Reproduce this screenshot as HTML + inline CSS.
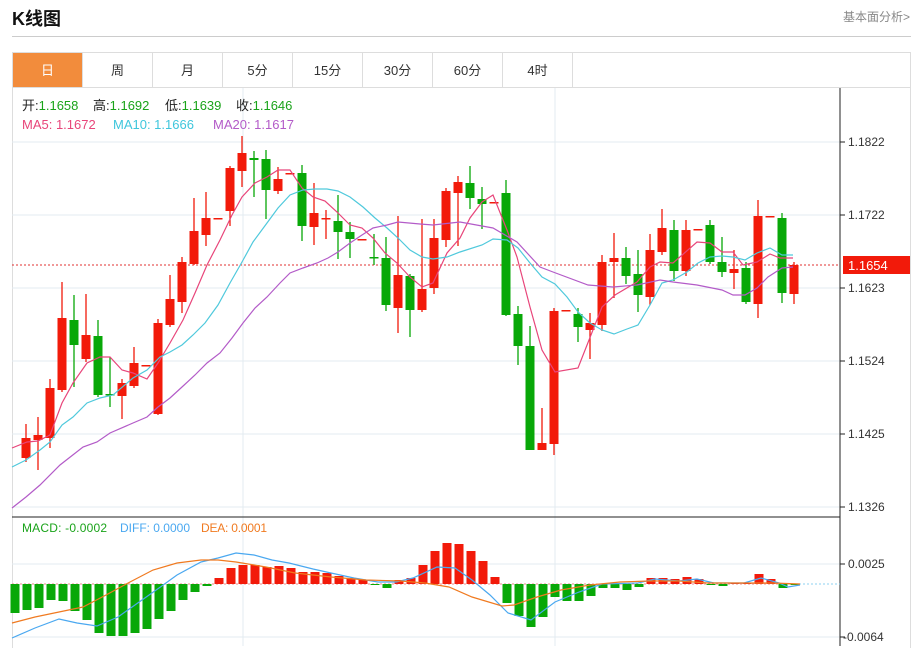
<!DOCTYPE html>
<html><head><meta charset="utf-8"><style>
body{margin:0;width:919px;height:646px;background:#fff;font-family:"Liberation Sans","Noto Sans CJK SC",sans-serif;overflow:hidden;position:relative}
.t{position:absolute;left:12px;top:5px;font-size:18px;font-weight:bold;color:#111}
.r{position:absolute;right:9px;top:8px;font-size:12px;color:#888}
.hr{position:absolute;left:12px;top:36px;width:899px;height:1px;background:#ccc}
.tabs{position:absolute;left:12px;top:52px;width:897px;height:35px;border:1px solid #ddd;border-bottom:none}
.tab{position:absolute;top:0;width:69px;height:35px;line-height:35px;text-align:center;font-size:13px;color:#333;border-right:1px solid #ddd}
.box{position:absolute;left:12px;top:87px;width:897px;height:560px;border:1px solid #ddd;border-bottom:none}
svg{position:absolute;left:0;top:0}
</style></head><body>
<div class="t">K线图</div><div class="r">基本面分析&gt;</div><div class="hr"></div>
<div class="tabs">
<div class="tab" style="left:0;background:#f28c3c;color:#fff">日</div>
<div class="tab" style="left:70px">周</div><div class="tab" style="left:140px">月</div>
<div class="tab" style="left:210px">5分</div><div class="tab" style="left:280px">15分</div>
<div class="tab" style="left:350px">30分</div><div class="tab" style="left:420px">60分</div>
<div class="tab" style="left:490px">4时</div></div>
<div class="box"></div>
<svg width="919" height="646" font-family="Liberation Sans, Noto Sans CJK SC, sans-serif">
<g stroke="#e3ebf1" stroke-width="1">
<line x1="12" x2="840" y1="142" y2="142"/><line x1="12" x2="840" y1="215" y2="215"/><line x1="12" x2="840" y1="288" y2="288"/><line x1="12" x2="840" y1="361" y2="361"/><line x1="12" x2="840" y1="434" y2="434"/><line x1="12" x2="840" y1="507" y2="507"/>
<line x1="243" x2="243" y1="88" y2="646"/><line x1="555" x2="555" y1="88" y2="646"/>
<line x1="12" x2="840" y1="564" y2="564"/><line x1="12" x2="840" y1="637" y2="637"/>
</g>
<line x1="12" x2="840" y1="265" y2="265" stroke="#e03030" stroke-dasharray="2,2"/>
<g id="c"></g>
<g fill="none" stroke-width="1.2">
<polyline stroke="#e8457a" points="12,448 27,442 38,441 50,435 62,403 73,383 87,363 100,357 110,357 122,370 133,373 147,379 158,363 170,343 183,320 195,293 207,265 220,240 232,215 242,197 255,183 267,177 278,170 290,170 302,188 313,197 325,201 337,212 350,225 362,228 373,238 385,253 397,263 410,277 422,287 433,283 447,253 460,238 470,218 482,202 493,195 507,230 517,257 530,307 542,350 555,372 578,368 602,307 615,295 637,282 650,267 660,262 673,263 697,242 710,243 722,252 733,252 743,265 757,262 770,254 780,258 793,258"/>
<polyline stroke="#4fc9dc" points="12,467 26,460 40,450 50,442 62,425 73,417 87,403 100,398 113,395 133,378 147,370 160,357 170,352 182,345 193,335 205,323 218,305 230,283 242,262 253,242 267,223 278,208 290,195 303,190 315,189 327,189 338,191 350,197 363,207 375,218 387,228 398,238 410,250 422,257 433,259 447,257 460,252 482,245 493,239 507,240 518,248 530,263 542,277 555,284 567,297 578,312 590,323 602,330 614,334 627,329 638,325 650,305 662,283 673,280 687,272 698,263 710,257 722,256 733,257 745,260 757,253 770,248 782,255 793,255"/>
<polyline stroke="#b35bc8" points="12,508 26,497 40,485 60,465 83,447 97,442 110,433 133,423 147,417 158,407 170,398 182,387 195,375 207,363 220,353 232,338 243,323 255,308 267,297 280,283 290,273 303,268 317,263 328,258 338,252 350,243 362,235 373,228 387,225 398,222 420,224 433,225 460,222 493,228 517,242 540,267 553,272 588,285 613,287 637,285 660,280 673,282 697,285 722,290 733,295 745,295 757,288 768,277 782,268 793,267"/>
</g>
<line x1="12" x2="840" y1="517" y2="517" stroke="#222"/>
<line x1="840" x2="840" y1="88" y2="646" stroke="#222"/>
<g stroke="#222"><line x1="840" x2="845" y1="142" y2="142"/><line x1="840" x2="845" y1="215" y2="215"/><line x1="840" x2="845" y1="288" y2="288"/><line x1="840" x2="845" y1="361" y2="361"/><line x1="840" x2="845" y1="434" y2="434"/><line x1="840" x2="845" y1="507" y2="507"/><line x1="840" x2="845" y1="564" y2="564"/><line x1="840" x2="845" y1="637" y2="637"/></g>
<g font-size="12" fill="#333"><text x="848" y="146">1.1822</text><text x="848" y="219">1.1722</text><text x="848" y="292">1.1623</text><text x="848" y="365">1.1524</text><text x="848" y="438">1.1425</text><text x="848" y="511">1.1326</text><text x="848" y="568">0.0025</text><text x="843" y="641">-0.0064</text></g>
<rect x="843" y="256" width="67" height="18" fill="#f21a0a"/><text x="848" y="270" font-size="13" fill="#fff">1.1654</text>
<g font-size="13">
<text x="22" y="110"><tspan fill="#222">开:</tspan><tspan fill="#1aa31a">1.1658</tspan></text>
<text x="93" y="110"><tspan fill="#222">高:</tspan><tspan fill="#1aa31a">1.1692</tspan></text>
<text x="165" y="110"><tspan fill="#222">低:</tspan><tspan fill="#1aa31a">1.1639</tspan></text>
<text x="236" y="110"><tspan fill="#222">收:</tspan><tspan fill="#1aa31a">1.1646</tspan></text>
<text x="22" y="129" fill="#e8457a">MA5: 1.1672</text>
<text x="113" y="129" fill="#3fc6dc">MA10: 1.1666</text>
<text x="213" y="129" fill="#b35bc8">MA20: 1.1617</text></g>
<g font-size="12"><text x="22" y="532" fill="#1aa31a" textLength="85">MACD: -0.0002</text><text x="120" y="532" fill="#4aa8f0" textLength="70">DIFF: 0.0000</text><text x="201" y="532" fill="#f07a20" textLength="66">DEA: 0.0001</text></g>
<line x1="12" x2="795" y1="584" y2="584" stroke="#e88" stroke-dasharray="2,2"/>
<line x1="795" x2="840" y1="584" y2="584" stroke="#8cd0f0" stroke-dasharray="2,2"/>
<g id="m"></g>
<g fill="none" stroke-width="1.2">
<polyline stroke="#4aa8f0" points="12,638 35,628 59,619 77,623 97,626 118,617 142,600 159,588 177,575 201,562 218,558 236,553 254,555 272,560 289,563 313,569 331,573 354,578 378,582 396,582 413,578 437,567 455,568 472,580 490,595 508,613 531,620 555,602 579,592 602,584 638,583 655,579 679,581 697,579 714,583 744,583 761,578 779,583 788,587 800,585"/>
<polyline stroke="#f07a20" points="12,623 35,617 59,612 83,607 106,595 130,582 153,570 177,563 201,560 218,560 236,562 266,567 295,573 331,577 366,580 401,581 425,583 449,587 472,597 502,606 514,605 537,597 561,590 590,585 620,582 649,581 679,581 708,583 744,583 773,583 800,584"/>
</g>
</svg>
<script>
var C=[[26,438,458,424,462,1],[38,435,440,417,470,1],[50,388,438,379,448,1],[62,318,390,282,392,1],[74,320,345,295,387,0],[86,335,359,294,362,1],[98,336,395,320,397,0],[110,394,395,357,407,0],[122,383,396,379,419,1],[134,363,386,347,388,1],[146,365,366,365,366,1],[158,323,414,319,415,1],[170,299,325,275,327,1],[182,262,302,257,313,1],[194,231,264,198,265,1],[206,218,235,192,246,1],[218,218,219,218,219,1],[230,168,211,166,226,1],[242,153,171,136,187,1],[254,158,160,151,197,0],[266,159,190,150,219,0],[278,179,191,167,194,1],[290,173,174,173,174,1],[302,173,226,165,241,0],[314,213,227,183,245,1],[326,218,219,210,239,1],[338,221,232,195,259,0],[350,232,239,222,258,0],[362,239,240,239,240,1],[374,257,258,234,265,0],[386,258,305,237,311,0],[398,275,308,216,333,1],[410,276,310,274,337,0],[422,289,310,219,312,1],[434,238,288,219,294,1],[446,191,240,188,247,1],[458,182,193,176,246,1],[470,183,198,166,209,0],[482,199,204,187,229,0],[494,202,203,202,203,1],[506,193,315,180,316,0],[518,314,346,306,365,0],[530,346,450,326,450,0],[542,443,450,408,450,1],[554,311,444,308,455,1],[566,310,311,310,311,1],[578,314,327,308,342,0],[590,323,330,313,359,1],[602,262,325,255,331,1],[614,258,262,233,298,1],[626,258,276,247,284,0],[638,274,295,250,312,0],[650,250,297,234,305,1],[662,228,252,209,255,1],[674,230,271,220,281,0],[686,230,271,220,276,1],[698,229,230,229,230,1],[710,225,262,220,264,0],[722,262,272,237,277,0],[734,269,273,250,289,1],[746,268,302,262,304,0],[758,216,304,200,318,1],[770,216,217,216,217,1],[782,218,293,213,303,0],[794,265,294,262,304,1]];
var s='';C.forEach(function(c){var col=c[5]?'#f21a0a':'#08a808';s+='<line x1="'+c[0]+'" x2="'+c[0]+'" y1="'+c[3]+'" y2="'+c[4]+'" stroke="'+col+'" stroke-width="1.3"/><rect x="'+(c[0]-4.5)+'" y="'+c[1]+'" width="9" height="'+Math.max(1.5,c[2]-c[1])+'" fill="'+col+'"/>';});
document.getElementById('c').innerHTML=s;
var M=[613,610,608,600,601,611,620,633,636,636,633,629,619,611,600,592,586,-578,-568,-565,-565,-567,-566,-568,-572,-572,-573,-576,-578,-580,585,588,-580,-578,-565,-551,-543,-544,-551,-561,-577,603,616,627,617,597,601,601,596,588,588,590,587,-578,-578,-579,-577,-579,585,586,-583,-583,-574,-579,588,585];
s='';M.forEach(function(v,i){var x=15+12*i-4.5;if(v<0){v=-v;s+='<rect x="'+x+'" y="'+v+'" width="9" height="'+(584-v)+'" fill="#f21a0a"/>';}else{s+='<rect x="'+x+'" y="584" width="9" height="'+(v-584)+'" fill="#08a808"/>';}});
document.getElementById('m').innerHTML=s;
</script>
</body></html>
